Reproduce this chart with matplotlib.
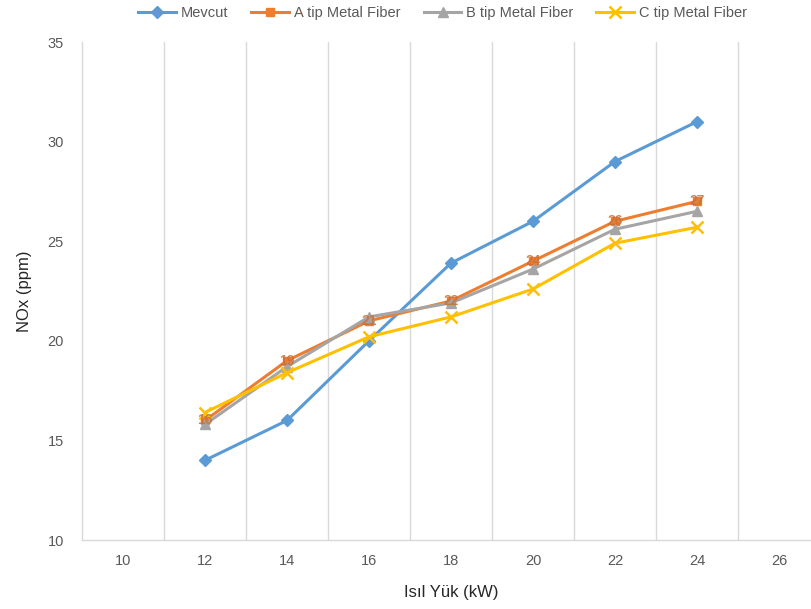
import matplotlib.pyplot as plt
from matplotlib.ticker import MultipleLocator

# Isıl yük (kW)
loads = [12, 14, 16, 18, 20, 22, 24]

# NOx (ppm)
mevcut = [14, 16, 20, 23.9, 26, 29, 31]
a_tip = [16, 19, 21, 22, 24, 26, 27]
b_tip = [15.8, 18.7, 21.2, 21.9, 23.6, 25.6, 26.5]
c_tip = [16.4, 18.4, 20.2, 21.2, 22.6, 24.9, 25.7]

plt.rcParams['font.family'] = ['Liberation Sans', 'DejaVu Sans']

fig = plt.figure(figsize=(8.12, 6.09), dpi=100)
ax = fig.add_axes([82/812, 69/609, 738/812, 498/609])

ax.plot(loads, mevcut, color='#5B9BD5', lw=2.2, marker='D', ms=6, label='Mevcut', zorder=3)
ax.plot(loads, a_tip, color='#ED7D31', lw=2.2, marker='s', ms=6, label='A tip Metal Fiber', zorder=3)
ax.plot(loads, b_tip, color='#A5A5A5', lw=2.2, marker='^', ms=7, label='B tip Metal Fiber', zorder=3)
ax.plot(loads, c_tip, color='#FFC000', lw=2.2, marker='x', ms=8, mew=1.8, label='C tip Metal Fiber', zorder=3)

# data labels on the A series
for x, y in zip(loads, a_tip):
    ax.text(x, y, f'{y:g}', color='#C8703A', fontsize=10, fontweight='bold',
            ha='center', va='center', zorder=4, alpha=0.85)

ax.set_xlim(9, 27)
ax.set_ylim(10, 35)
ax.set_xticks([11, 13, 15, 17, 19, 21, 23, 25], minor=True)
ax.set_xticks(range(10, 27, 2))
ax.yaxis.set_major_locator(MultipleLocator(5))
ax.grid(which='minor', axis='x', color='#D9D9D9', lw=1)
ax.tick_params(which='both', length=0, colors='#595959', labelsize=10.5)
ax.tick_params(axis='x', pad=10)
ax.tick_params(axis='y', pad=13)

for s in ['top', 'right']:
    ax.spines[s].set_visible(False)
for s in ['left', 'bottom']:
    ax.spines[s].set_color('#D9D9D9')
    ax.spines[s].set_linewidth(1)

ax.set_xlabel('Isıl Yük (kW)', fontsize=12, color='#262626', labelpad=12)
ax.set_ylabel('NOx (ppm)', fontsize=12, color='#262626', labelpad=11)

fig.legend(loc='upper center', bbox_to_anchor=(0.545, 1.012), ncol=4, frameon=False,
           fontsize=10.5, handlelength=2.6, handletextpad=0.3, columnspacing=1.6,
           labelcolor='#595959')

fig.savefig('out.png', dpi=100)
